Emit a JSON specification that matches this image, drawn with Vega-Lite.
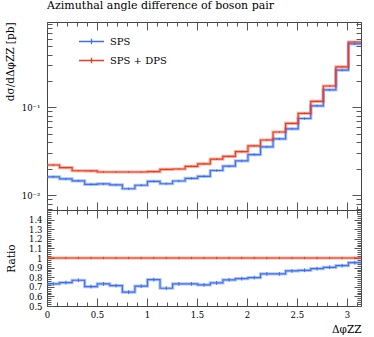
{
  "$schema": "https://vega.github.io/schema/vega-lite/v6.json",
  "autosize": {"type": "none"},
  "width": 314,
  "height": 284,
  "padding": {"left": 47, "top": 22, "right": 13, "bottom": 31},
  "background": "white",
  "title": {"text": "Azimuthal angle difference of boson pair", "anchor": "start", "frame": "group", "offset": 9, "fontSize": 11, "fontWeight": "normal", "font": "DejaVu Serif", "color": "#000"},
  "config": {
    "font": "DejaVu Serif",
    "view": {"stroke": "#444", "strokeWidth": 1},
    "axis": {"labelFont": "DejaVu Serif", "labelFontSize": 8.5, "labelColor": "#000", "titleFont": "DejaVu Serif", "titleFontSize": 10.5, "titleFontWeight": "normal", "titleColor": "#000", "tickColor": "#555", "domainColor": "#444", "grid": false, "labelOverlap": false, "labelFlush": false, "domain": false}
  },
  "data": {"values": [
    {"x": 0, "c": 0.0628, "s": "SPS", "y": 0.01606, "lo": 0.01558, "hi": 0.01654, "r": 0.730, "rlo": 0.710, "rhi": 0.750},
    {"x": 0.1257, "c": 0.1885, "s": "SPS", "y": 0.01525, "lo": 0.01479, "hi": 0.01571, "r": 0.744, "rlo": 0.724, "rhi": 0.764},
    {"x": 0.2513, "c": 0.3142, "s": "SPS", "y": 0.01452, "lo": 0.01408, "hi": 0.01496, "r": 0.768, "rlo": 0.748, "rhi": 0.788},
    {"x": 0.3770, "c": 0.4398, "s": "SPS", "y": 0.01320, "lo": 0.01280, "hi": 0.01360, "r": 0.702, "rlo": 0.682, "rhi": 0.722},
    {"x": 0.5027, "c": 0.5655, "s": "SPS", "y": 0.01336, "lo": 0.01296, "hi": 0.01376, "r": 0.730, "rlo": 0.710, "rhi": 0.750},
    {"x": 0.6283, "c": 0.6912, "s": "SPS", "y": 0.01303, "lo": 0.01264, "hi": 0.01342, "r": 0.712, "rlo": 0.692, "rhi": 0.732},
    {"x": 0.7540, "c": 0.8168, "s": "SPS", "y": 0.01179, "lo": 0.01144, "hi": 0.01214, "r": 0.644, "rlo": 0.624, "rhi": 0.664},
    {"x": 0.8796, "c": 0.9425, "s": "SPS", "y": 0.01292, "lo": 0.01253, "hi": 0.01331, "r": 0.706, "rlo": 0.686, "rhi": 0.726},
    {"x": 1.0053, "c": 1.0681, "s": "SPS", "y": 0.01434, "lo": 0.01391, "hi": 0.01477, "r": 0.775, "rlo": 0.755, "rhi": 0.795},
    {"x": 1.1310, "c": 1.1938, "s": "SPS", "y": 0.01343, "lo": 0.01303, "hi": 0.01383, "r": 0.685, "rlo": 0.665, "rhi": 0.705},
    {"x": 1.2566, "c": 1.3195, "s": "SPS", "y": 0.01445, "lo": 0.01402, "hi": 0.01488, "r": 0.730, "rlo": 0.710, "rhi": 0.750},
    {"x": 1.3823, "c": 1.4451, "s": "SPS", "y": 0.01548, "lo": 0.01502, "hi": 0.01594, "r": 0.730, "rlo": 0.710, "rhi": 0.750},
    {"x": 1.5080, "c": 1.5708, "s": "SPS", "y": 0.01634, "lo": 0.01585, "hi": 0.01683, "r": 0.720, "rlo": 0.700, "rhi": 0.740},
    {"x": 1.6336, "c": 1.6965, "s": "SPS", "y": 0.01902, "lo": 0.01845, "hi": 0.01959, "r": 0.740, "rlo": 0.720, "rhi": 0.760},
    {"x": 1.7593, "c": 1.8221, "s": "SPS", "y": 0.02131, "lo": 0.02067, "hi": 0.02195, "r": 0.772, "rlo": 0.752, "rhi": 0.792},
    {"x": 1.8850, "c": 1.9478, "s": "SPS", "y": 0.02449, "lo": 0.02376, "hi": 0.02522, "r": 0.785, "rlo": 0.765, "rhi": 0.805},
    {"x": 2.0106, "c": 2.0735, "s": "SPS", "y": 0.02889, "lo": 0.02802, "hi": 0.02976, "r": 0.796, "rlo": 0.776, "rhi": 0.816},
    {"x": 2.1363, "c": 2.1991, "s": "SPS", "y": 0.03536, "lo": 0.03430, "hi": 0.03642, "r": 0.834, "rlo": 0.814, "rhi": 0.854},
    {"x": 2.2619, "c": 2.3248, "s": "SPS", "y": 0.04362, "lo": 0.04231, "hi": 0.04493, "r": 0.834, "rlo": 0.814, "rhi": 0.854},
    {"x": 2.3876, "c": 2.4504, "s": "SPS", "y": 0.05674, "lo": 0.05504, "hi": 0.05844, "r": 0.865, "rlo": 0.845, "rhi": 0.885},
    {"x": 2.5133, "c": 2.5761, "s": "SPS", "y": 0.07456, "lo": 0.07232, "hi": 0.07680, "r": 0.872, "rlo": 0.852, "rhi": 0.892},
    {"x": 2.6389, "c": 2.7018, "s": "SPS", "y": 0.1040, "lo": 0.1009, "hi": 0.1071, "r": 0.889, "rlo": 0.869, "rhi": 0.909},
    {"x": 2.7646, "c": 2.8274, "s": "SPS", "y": 0.1580, "lo": 0.1533, "hi": 0.1627, "r": 0.903, "rlo": 0.883, "rhi": 0.923},
    {"x": 2.8903, "c": 2.9531, "s": "SPS", "y": 0.2659, "lo": 0.2579, "hi": 0.2739, "r": 0.920, "rlo": 0.900, "rhi": 0.940},
    {"x": 3.0159, "c": 3.0788, "s": "SPS", "y": 0.5288, "lo": 0.5129, "hi": 0.5447, "r": 0.951, "rlo": 0.931, "rhi": 0.971},
    {"x": 3.1416, "s": "SPS", "y": 0.5288, "r": 0.951},
    {"x": 0, "c": 0.0628, "s": "SPS + DPS", "y": 0.0220, "lo": 0.02156, "hi": 0.02244, "r": 1, "rlo": 0.988, "rhi": 1.012},
    {"x": 0.1257, "c": 0.1885, "s": "SPS + DPS", "y": 0.0205, "lo": 0.02009, "hi": 0.02091, "r": 1, "rlo": 0.988, "rhi": 1.012},
    {"x": 0.2513, "c": 0.3142, "s": "SPS + DPS", "y": 0.0189, "lo": 0.01852, "hi": 0.01928, "r": 1, "rlo": 0.988, "rhi": 1.012},
    {"x": 0.3770, "c": 0.4398, "s": "SPS + DPS", "y": 0.0188, "lo": 0.01842, "hi": 0.01918, "r": 1, "rlo": 0.988, "rhi": 1.012},
    {"x": 0.5027, "c": 0.5655, "s": "SPS + DPS", "y": 0.0183, "lo": 0.01793, "hi": 0.01867, "r": 1, "rlo": 0.988, "rhi": 1.012},
    {"x": 0.6283, "c": 0.6912, "s": "SPS + DPS", "y": 0.0183, "lo": 0.01793, "hi": 0.01867, "r": 1, "rlo": 0.988, "rhi": 1.012},
    {"x": 0.7540, "c": 0.8168, "s": "SPS + DPS", "y": 0.0183, "lo": 0.01793, "hi": 0.01867, "r": 1, "rlo": 0.988, "rhi": 1.012},
    {"x": 0.8796, "c": 0.9425, "s": "SPS + DPS", "y": 0.0183, "lo": 0.01793, "hi": 0.01867, "r": 1, "rlo": 0.988, "rhi": 1.012},
    {"x": 1.0053, "c": 1.0681, "s": "SPS + DPS", "y": 0.0185, "lo": 0.01813, "hi": 0.01887, "r": 1, "rlo": 0.988, "rhi": 1.012},
    {"x": 1.1310, "c": 1.1938, "s": "SPS + DPS", "y": 0.0196, "lo": 0.01921, "hi": 0.01999, "r": 1, "rlo": 0.988, "rhi": 1.012},
    {"x": 1.2566, "c": 1.3195, "s": "SPS + DPS", "y": 0.0198, "lo": 0.01940, "hi": 0.02020, "r": 1, "rlo": 0.988, "rhi": 1.012},
    {"x": 1.3823, "c": 1.4451, "s": "SPS + DPS", "y": 0.0212, "lo": 0.02078, "hi": 0.02162, "r": 1, "rlo": 0.988, "rhi": 1.012},
    {"x": 1.5080, "c": 1.5708, "s": "SPS + DPS", "y": 0.0227, "lo": 0.02225, "hi": 0.02315, "r": 1, "rlo": 0.988, "rhi": 1.012},
    {"x": 1.6336, "c": 1.6965, "s": "SPS + DPS", "y": 0.0257, "lo": 0.02519, "hi": 0.02621, "r": 1, "rlo": 0.988, "rhi": 1.012},
    {"x": 1.7593, "c": 1.8221, "s": "SPS + DPS", "y": 0.0276, "lo": 0.02705, "hi": 0.02815, "r": 1, "rlo": 0.988, "rhi": 1.012},
    {"x": 1.8850, "c": 1.9478, "s": "SPS + DPS", "y": 0.0312, "lo": 0.03058, "hi": 0.03182, "r": 1, "rlo": 0.988, "rhi": 1.012},
    {"x": 2.0106, "c": 2.0735, "s": "SPS + DPS", "y": 0.0363, "lo": 0.03557, "hi": 0.03703, "r": 1, "rlo": 0.988, "rhi": 1.012},
    {"x": 2.1363, "c": 2.1991, "s": "SPS + DPS", "y": 0.0424, "lo": 0.04155, "hi": 0.04325, "r": 1, "rlo": 0.988, "rhi": 1.012},
    {"x": 2.2619, "c": 2.3248, "s": "SPS + DPS", "y": 0.0523, "lo": 0.05125, "hi": 0.05335, "r": 1, "rlo": 0.988, "rhi": 1.012},
    {"x": 2.3876, "c": 2.4504, "s": "SPS + DPS", "y": 0.0656, "lo": 0.06429, "hi": 0.06691, "r": 1, "rlo": 0.988, "rhi": 1.012},
    {"x": 2.5133, "c": 2.5761, "s": "SPS + DPS", "y": 0.0855, "lo": 0.08379, "hi": 0.08721, "r": 1, "rlo": 0.988, "rhi": 1.012},
    {"x": 2.6389, "c": 2.7018, "s": "SPS + DPS", "y": 0.117, "lo": 0.1147, "hi": 0.1193, "r": 1, "rlo": 0.988, "rhi": 1.012},
    {"x": 2.7646, "c": 2.8274, "s": "SPS + DPS", "y": 0.175, "lo": 0.1715, "hi": 0.1785, "r": 1, "rlo": 0.988, "rhi": 1.012},
    {"x": 2.8903, "c": 2.9531, "s": "SPS + DPS", "y": 0.289, "lo": 0.2832, "hi": 0.2948, "r": 1, "rlo": 0.988, "rhi": 1.012},
    {"x": 3.0159, "c": 3.0788, "s": "SPS + DPS", "y": 0.556, "lo": 0.5449, "hi": 0.5671, "r": 1, "rlo": 0.988, "rhi": 1.012},
    {"x": 3.1416, "s": "SPS + DPS", "y": 0.556, "r": 1}
  ]},
  "resolve": {"scale": {"y": "independent"}, "axis": {"x": "independent", "y": "independent"}},
  "layer": [
    {
      "mark": {"type": "line", "interpolate": "step-after", "strokeWidth": 3.2, "strokeOpacity": 0.4},
      "encoding": {
        "x": {"field": "x", "type": "quantitative", "scale": {"domain": [0, 3.1416], "nice": false, "zero": false},
          "axis": {"orient": "bottom", "values": [0,0.1,0.2,0.3,0.4,0.5,0.6,0.7,0.8,0.9,1,1.1,1.2,1.3,1.4,1.5,1.6,1.7,1.8,1.9,2,2.1,2.2,2.3,2.4,2.5,2.6,2.7,2.8,2.9,3,3.1],
            "labelExpr": "abs(datum.value*2-round(datum.value*2))<0.001 ? format(datum.value,'~g') : ''",
            "tickSize": {"condition": {"test": "abs(datum.value*2-round(datum.value*2))<0.001", "value": -8}, "value": -4},
            "labelPadding": 12, "title": "ΔφZZ", "titleAnchor": "end", "titleBaseline": "alphabetic", "titleY": 26}},
        "y": {"field": "y", "type": "quantitative", "scale": {"type": "log", "domain": [0.006745, 0.9397], "range": [188, 0], "nice": false},
          "axis": {"orient": "left", "values": [0.007,0.008,0.009,0.01,0.02,0.03,0.04,0.05,0.06,0.07,0.08,0.09,0.1,0.2,0.3,0.4,0.5,0.6,0.7,0.8,0.9],
            "labelExpr": "datum.value==0.1 ? '10⁻¹' : (datum.value==0.01 ? '10⁻²' : '')",
            "tickSize": {"condition": {"test": "datum.value==0.1 || datum.value==0.01", "value": -9}, "value": -5},
            "labelPadding": 16, "title": "dσ/dΔφZZ [pb]", "titleAnchor": "end", "titleX": -37, "titleBaseline": "middle"}},
        "color": {"field": "s", "type": "nominal", "scale": {"domain": ["SPS", "SPS + DPS"], "range": ["#3d6ff0", "#ee3b1c"]},
          "legend": {"orient": "none", "legendX": 31, "legendY": 6, "title": null, "symbolType": "M-1,0H1M0,-0.22V0.22", "symbolSize": 625, "symbolStrokeWidth": 1.3, "symbolOpacity": 1, "labelFont": "DejaVu Serif", "labelFontSize": 10, "labelColor": "#000", "rowPadding": -12.3, "labelOffset": 5}}
      }
    },
    {
      "mark": {"type": "line", "interpolate": "step-after", "strokeWidth": 1.2},
      "encoding": {
        "x": {"field": "x", "type": "quantitative",
          "axis": {"orient": "top", "values": [0,0.1,0.2,0.3,0.4,0.5,0.6,0.7,0.8,0.9,1,1.1,1.2,1.3,1.4,1.5,1.6,1.7,1.8,1.9,2,2.1,2.2,2.3,2.4,2.5,2.6,2.7,2.8,2.9,3,3.1],
            "labels": false, "title": null,
            "tickSize": {"condition": {"test": "abs(datum.value*2-round(datum.value*2))<0.001", "value": -8}, "value": -4}}},
        "y": {"field": "y", "type": "quantitative", "scale": {"type": "log", "domain": [0.006745, 0.9397], "range": [188, 0], "nice": false},
          "axis": {"orient": "right", "values": [0.007,0.008,0.009,0.01,0.02,0.03,0.04,0.05,0.06,0.07,0.08,0.09,0.1,0.2,0.3,0.4,0.5,0.6,0.7,0.8,0.9],
            "labels": false, "title": null,
            "tickSize": {"condition": {"test": "datum.value==0.1 || datum.value==0.01", "value": -9}, "value": -5}}},
        "color": {"field": "s", "type": "nominal"}
      }
    },
    {
      "transform": [{"filter": "isValid(datum.lo)"}],
      "mark": {"type": "rule", "strokeWidth": 1},
      "encoding": {
        "x": {"field": "c", "type": "quantitative",
          "axis": {"orient": "bottom", "offset": -96, "domain": true, "labels": false, "title": null,
            "values": [0,0.1,0.2,0.3,0.4,0.5,0.6,0.7,0.8,0.9,1,1.1,1.2,1.3,1.4,1.5,1.6,1.7,1.8,1.9,2,2.1,2.2,2.3,2.4,2.5,2.6,2.7,2.8,2.9,3,3.1],
            "tickSize": {"condition": {"test": "abs(datum.value*2-round(datum.value*2))<0.001", "value": -8}, "value": -4}}},
        "y": {"field": "lo", "type": "quantitative", "scale": {"type": "log", "domain": [0.006745, 0.9397], "range": [188, 0], "nice": false}, "axis": null},
        "y2": {"field": "hi"},
        "color": {"field": "s", "type": "nominal"}
      }
    },
    {
      "mark": {"type": "line", "interpolate": "step-after", "strokeWidth": 3.2, "strokeOpacity": 0.4},
      "encoding": {
        "x": {"field": "x", "type": "quantitative", "axis": null},
        "y": {"field": "r", "type": "quantitative", "scale": {"domain": [0.5, 1.5], "range": [284, 188], "nice": false, "zero": false},
          "axis": {"orient": "left", "values": [0.5,0.52,0.54,0.56,0.58,0.6,0.62,0.64,0.66,0.68,0.7,0.72,0.74,0.76,0.78,0.8,0.82,0.84,0.86,0.88,0.9,0.92,0.94,0.96,0.98,1,1.02,1.04,1.06,1.08,1.1,1.12,1.14,1.16,1.18,1.2,1.22,1.24,1.26,1.28,1.3,1.32,1.34,1.36,1.38,1.4,1.42,1.44,1.46,1.48],
            "labelExpr": "abs(datum.value*10-round(datum.value*10))<0.001 ? format(datum.value,'.2~f') : ''",
            "tickSize": {"condition": {"test": "abs(datum.value*10-round(datum.value*10))<0.001", "value": -7}, "value": -4},
            "labelPadding": 12, "title": "Ratio", "titleX": -36, "titleBaseline": "middle"}},
        "color": {"field": "s", "type": "nominal"}
      }
    },
    {
      "mark": {"type": "line", "interpolate": "step-after", "strokeWidth": 1.2},
      "encoding": {
        "x": {"field": "x", "type": "quantitative",
          "axis": {"orient": "top", "offset": -188, "labels": false, "title": null,
            "values": [0,0.1,0.2,0.3,0.4,0.5,0.6,0.7,0.8,0.9,1,1.1,1.2,1.3,1.4,1.5,1.6,1.7,1.8,1.9,2,2.1,2.2,2.3,2.4,2.5,2.6,2.7,2.8,2.9,3,3.1],
            "tickSize": {"condition": {"test": "abs(datum.value*2-round(datum.value*2))<0.001", "value": -8}, "value": -4}}},
        "y": {"field": "r", "type": "quantitative", "scale": {"domain": [0.5, 1.5], "range": [284, 188], "nice": false, "zero": false},
          "axis": {"orient": "right", "labels": false, "title": null,
            "values": [0.5,0.52,0.54,0.56,0.58,0.6,0.62,0.64,0.66,0.68,0.7,0.72,0.74,0.76,0.78,0.8,0.82,0.84,0.86,0.88,0.9,0.92,0.94,0.96,0.98,1,1.02,1.04,1.06,1.08,1.1,1.12,1.14,1.16,1.18,1.2,1.22,1.24,1.26,1.28,1.3,1.32,1.34,1.36,1.38,1.4,1.42,1.44,1.46,1.48],
            "tickSize": {"condition": {"test": "abs(datum.value*10-round(datum.value*10))<0.001", "value": -7}, "value": -4}}},
        "color": {"field": "s", "type": "nominal"}
      }
    },
    {
      "transform": [{"filter": "isValid(datum.rlo)"}],
      "mark": {"type": "rule", "strokeWidth": 1},
      "encoding": {
        "x": {"field": "c", "type": "quantitative", "axis": null},
        "y": {"field": "rlo", "type": "quantitative", "scale": {"domain": [0.5, 1.5], "range": [284, 188], "nice": false, "zero": false}, "axis": null},
        "y2": {"field": "rhi"},
        "color": {"field": "s", "type": "nominal"}
      }
    }
  ]
}
